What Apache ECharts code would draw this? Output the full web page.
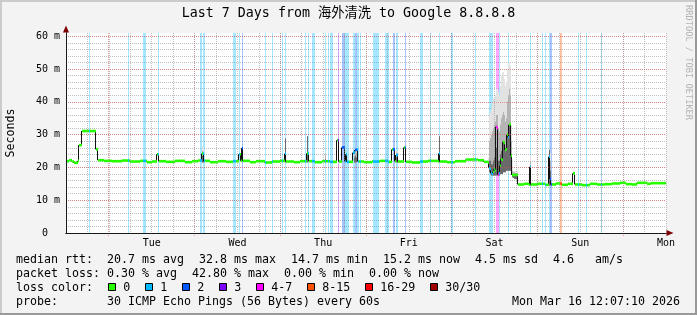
<!DOCTYPE html>
<html><head><meta charset="utf-8">
<script src="https://cdn.jsdelivr.net/npm/echarts@6/dist/echarts.min.js"></script>
<style>html,body{margin:0;padding:0;background:#f3f3f3}#c{width:697px;height:315px}</style>
</head><body><div id="c"></div>
<script>
// ---- data (time in hours since window start, Mon 12:07) ----
const STEP = 0.28; // one rrd row (1008 s)
const dayNames = ['Mon','Tue','Wed','Thu','Fri','Sat','Sun','Mon'];
const midnights = [12,36,60,84,108,132,156];
const medTime = [0,0.84,1.68,2.24,3.36,3.64,4.48,8.4,8.96,10.64,12.88,15.68,17.92,20.72,22.68,24.08,25.48,26.04,28.0,30.52,33.32,35.28,36.96,38.08,38.64,40.32,42.56,44.8,46.76,48.44,49.0,49.28,49.56,51.52,53.2,55.72,57.68,59.92,61.32,61.6,63.84,65.52,67.48,68.04,69.72,71.68,73.92,75.88,76.44,77.28,78.12,78.4,78.68,80.36,80.92,81.48,81.76,83.44,85.68,87.92,90.16,91.28,92.12,92.4,92.96,94.64,95.2,96.88,99.12,101.36,104.16,104.44,104.72,106.68,108.92,112.0,115.36,117.04,118.16,118.44,118.72,119.0,119.28,119.56,119.84,120.12,120.4,120.68,120.96,121.24,121.52,121.8,122.08,122.36,122.64,122.92,123.2,123.48,123.76,124.04,124.32,124.6,124.88,126.56,128.24,129.64,129.92,130.2,131.88,134.12,135.24,135.52,135.8,137.2,138.88,140.56,141.96,142.52,144.48,146.72,148.68,150.92,152.88,155.12,156.8,158.48,159.88,162.68,163.76,166.32];
const medValue = [21.9,22.2,21.8,21.4,22.0,26.8,31.1,25.5,22.2,22.0,21.9,22.1,21.8,22.0,21.6,21.8,24.0,21.9,21.7,22.0,21.6,21.9,22.1,24.2,22.0,21.6,21.9,21.7,21.9,24.0,22.0,25.9,22.0,21.6,21.9,21.5,21.8,22.0,24.2,21.8,21.6,21.9,24.3,21.9,21.6,21.9,21.7,28.3,21.8,26.1,21.8,24.0,21.7,24.5,25.3,25.5,21.8,21.6,21.8,22.0,21.7,25.5,21.9,23.8,21.8,26.1,21.7,21.5,21.8,22.0,21.8,24.3,21.8,21.6,21.9,22.4,22.2,21.7,21.5,19.8,19.5,18.3,18.0,18.7,19.5,19.0,32.4,32.0,17.8,18.2,20.5,22.5,22.3,27.8,27.5,25.3,25.5,30.0,29.2,33.0,33.2,23.6,17.7,14.8,15.0,14.7,20.2,14.8,15.0,14.7,23.3,16.5,14.8,15.1,14.7,15.0,18.2,14.8,14.6,15.0,14.8,14.9,15.1,15.3,14.9,14.8,15.3,15.0,15.2,15.2];
const lossStart = [6.44,17.36,21.56,25.76,37.52,38.36,46.76,48.44,49.28,55.72,57.68,60.48,61.32,66.92,67.76,68.88,72.52,73.36,73.92,76.16,77.28,78.12,80.36,80.92,81.48,82.32,85.96,89.32,91.56,92.4,94.92,99.12,101.92,104.44,107.8,114.52,118.44,120.4,121.24,123.76,129.92,133.28,134.12,135.24,135.52,138.32,143.36,145.6,149.8];
const lossEnd   = [6.72,17.64,22.4,26.04,38.08,38.92,47.6,48.72,49.56,56.0,57.96,60.76,61.6,67.2,68.04,69.72,72.8,73.64,74.76,76.44,78.12,79.24,80.92,81.48,82.04,82.6,87.64,90.44,92.12,92.96,95.2,99.96,102.2,104.72,108.36,114.8,119.56,121.24,121.52,124.04,130.2,133.56,134.4,135.52,136.08,138.88,143.64,145.88,150.08];
const lossCode  = [1,1,1,1,1,1,1,1,2,1,1,1,1,1,1,1,1,1,1,3,2,1,1,2,1,1,1,1,2,1,2,1,1,1,1,1,1,4,1,1,1,1,1,1,2,5,1,1,1];
const smokeTime = [38.08,38.36,61.32,67.48,72.52,80.64,80.92,81.2,92.4,92.68,104.44,118.16,118.44,118.72,119.0,119.28,119.56,119.84,120.12,120.4,120.68,120.96,121.24,121.52,121.8,122.08,122.36,122.64,122.92,123.2,123.48,123.76,124.04,124.32,124.6,124.88,125.16,125.44,125.72,126.0,126.28,129.92,135.24,135.52];
const smokeLo   = [21.5,21.5,21.5,21.5,21.5,21.5,21.5,21.5,21.5,21.5,21.5,20,18.5,18,17.5,17.5,17.5,17.5,17.5,17.5,17.5,17.5,17.5,18,18,18,18.5,18.5,18.5,19,19,19,19,19,18,17,16.8,16.5,16.5,16.5,16,14.5,14.5,14.5];
const smokeCore = [23.5,23,28.8,29.5,22.5,23,23.5,23,23,23,29.5,21.5,22,22,21,21,22,23,24,26,26,22,22,24,25,26,28,28,26,27,30,30,33,32,24,18,18,18,17.8,17.8,17.8,20.5,25.3,19];
const smokeMid  = [25,24.5,28.8,29.5,24,24.5,25,24.5,24.5,24.5,29.5,22,28,29,30,31,32,33,34,36,36,32,31,33,35,36,37,36,34,35,40,42,44,42,28,19,18.5,18.5,18.3,18.3,18.3,22,25.3,22];
const smokeHi   = [26.5,26,28.8,29.5,24,25,25.5,25,25,25,29.5,23,36,37,38,40,41,41,42,44,44,43,42,45,48,49,49,47,45,46,50,52,52,51,33,22.5,19,19,18.8,18.8,18.8,23.8,25.3,24.5];
const lossLabels = ['0','1','2','3','4-7','8-15','16-29','30/30'];
const lossColors = ['#26ff00','#00b8ff','#0059ff','#7e00ff','#ff00ff','#ff5500','#ff0000','#a10000'];
const rttStats = ['20.7 ms avg','32.8 ms max','14.7 ms min','15.2 ms now','4.5 ms sd','4.6   am/s'];
const lossStats = ['0.30 % avg','42.80 % max','0.00 % min','0.00 % now'];
const probeText = '30 ICMP Echo Pings (56 Bytes) every 60s';
const stampText = 'Mon Mar 16 12:07:10 2026';
const titleText = 'Last 7 Days from 海外清洗 to Google 8.8.8.8';

// ---- derived structures ----
const END = 168;
function rgba(hex, a){const n=parseInt(hex.slice(1),16);return `rgba(${n>>16},${(n>>8)&255},${n&255},${a})`;}
const bandData = lossStart.map((s,i)=>[s, lossEnd[i], lossCode[i]]);
const medPieces = [];
medTime.forEach((t,i)=>{
  const a=t, b=(i+1<medTime.length)?medTime[i+1]:END, v=medValue[i];
  const cuts=[a,b];
  lossStart.forEach((s,j)=>{const e=lossEnd[j]; if(s>a&&s<b)cuts.push(s); if(e>a&&e<b)cuts.push(e);});
  cuts.sort((x,y)=>x-y);
  for(let k=0;k<cuts.length-1;k++){
    const c0=cuts[k],c1=cuts[k+1]; if(c1-c0<1e-6)continue;
    const m=(c0+c1)/2; let code=0;
    lossStart.forEach((s,j)=>{if(m>s&&m<lossEnd[j])code=lossCode[j];});
    medPieces.push([c0,c1,v,code]);
  }
});
const connData = medTime.slice(1).map((t,i)=>[t, medValue[i], medValue[i+1]]);
const smokeData = smokeTime.map((t,i)=>[t, t+STEP, smokeLo[i], smokeCore[i], smokeMid[i], smokeHi[i]]);

const MONO = "'DejaVu Sans Mono', 'Noto Sans CJK SC', monospace";
const chart = echarts.init(document.getElementById('c'), null, {renderer:'canvas'});

// ---- legend / texts ----
const LF = 11.63, CW = 7;
const g = [];
function txt(x,y,s,size,align,fill){
  return {type:'text', x:x, y:y, silent:true, style:{text:s, font:`${size}px ${MONO}`, fill:fill||'#000', align:align||'left', verticalAlign:'middle', textAlign:align||'left', textVerticalAlign:'middle'}};
}
g.push({type:'rect', silent:true, shape:{x:0,y:0,width:697,height:2}, style:{fill:'#cbcbcb'}});
g.push({type:'rect', silent:true, shape:{x:0,y:0,width:2,height:315}, style:{fill:'#cbcbcb'}});
g.push({type:'rect', silent:true, shape:{x:0,y:313,width:697,height:2}, style:{fill:'#999'}});
g.push({type:'rect', silent:true, shape:{x:695,y:0,width:2,height:315}, style:{fill:'#999'}});
g.push(txt(348.5,14,titleText,13.3,'center'));
g.push({type:'text', x:688.5, y:5, rotation:-Math.PI/2, silent:true, style:{text:'RRDTOOL / TOBI OETIKER', font:`8.7px ${MONO}`, fill:'#b4b4b4', align:'left', verticalAlign:'middle', textAlign:'left', textVerticalAlign:'middle'}});
const L1=259.5, L2=273.5, L3=287.5, L4=301.5, TAB=107, GAP=15;
g.push(txt(16,L1,'median rtt:',LF));
let x=TAB; rttStats.forEach(s=>{g.push(txt(x,L1,s,LF)); x+=s.length*CW+GAP;});
g.push(txt(16,L2,'packet loss:',LF));
x=TAB; lossStats.forEach(s=>{g.push(txt(x,L2,s,LF)); x+=s.length*CW+GAP;});
g.push(txt(16,L3,'loss color:',LF));
let bx=108;
lossLabels.forEach((s,i)=>{
  g.push({type:'rect', silent:true, shape:{x:bx+0.5,y:L3-4,width:7,height:7}, style:{fill:lossColors[i], stroke:'#000', lineWidth:1}});
  const lx=bx+15.3; g.push(txt(lx,L3,s,LF));
  bx=lx+s.length*CW+14.7;
});
g.push(txt(16,L4,'probe:',LF));
g.push(txt(TAB,L4,probeText,LF));
g.push(txt(680,L4,stampText,LF,'right'));

const gridGray = 'rgba(143,143,143,0.56)';
const gridRed = 'rgba(224,80,80,0.56)';
const ARROW = '#7f0000';
const hidden = {axisLabel:{show:false}, axisTick:{show:false}, splitLine:{show:false}};

chart.setOption({
  animation:false,
  backgroundColor:'#f3f3f3',
  textStyle:{fontFamily:MONO},
  grid:{left:66, right:31, top:33, bottom:82, show:true, backgroundColor:'#fff', borderWidth:0, containLabel:false, outerBoundsMode:'none'},
  xAxis:[
    {type:'value', min:0, max:END, interval:6, z:8,
      axisLine:{show:true, onZero:false, lineStyle:{color:'#1a1a1a', width:1}},
      axisTick:{show:false},
      axisLabel:{show:true, fontSize:10, fontFamily:MONO, color:'#000', margin:5, showMaxLabel:true, showMinLabel:true, hideOverlap:false,
        formatter:v=>{const r=Math.round(v); return (r>0 && r%24===0)? dayNames[r/24] : '';}},
      splitLine:{show:true, lineStyle:{color:gridGray, width:1, type:[1,1]}}},
    Object.assign({type:'value', min:0, max:END, position:'bottom', z:7,
      axisLine:{show:true, onZero:false, symbol:['none','triangle'], symbolSize:[6,7], symbolOffset:[0,4], lineStyle:{color:ARROW, width:1}}}, hidden)
  ],
  yAxis:[
    {type:'value', min:0, max:61, interval:2, position:'left', axisLine:{show:false}, axisTick:{show:false}, axisLabel:{show:false},
      splitLine:{show:true, showMaxLine:false, showMinLine:false, lineStyle:{color:gridGray, width:1, type:[1,1]}}},
    {type:'value', min:0, max:61, interval:10, position:'left', z:8,
      name:'Seconds', nameLocation:'middle', nameRotate:90, nameGap:49, nameTextStyle:{fontSize:11.6, fontFamily:MONO, color:'#000'},
      axisLine:{show:true, onZero:false, lineStyle:{color:'#1a1a1a', width:1}},
      axisTick:{show:false},
      axisLabel:{fontSize:10, fontFamily:MONO, color:'#000', margin:6,
        formatter:v=>{const r=Math.round(v); if(Math.abs(v-r)>1e-6 || r%10) return ''; return r===0 ? '0\u00a0\u00a0' : r+' m';}},
      splitLine:{show:true, showMaxLine:false, showMinLine:false, lineStyle:{color:gridRed, width:1, type:[1,1]}}},
    Object.assign({type:'value', min:0, max:61, position:'left', z:7,
      axisLine:{show:true, onZero:false, symbol:['none','triangle'], symbolSize:[6,7], symbolOffset:[0,4], lineStyle:{color:ARROW, width:1}}}, hidden)
  ],
  graphic:g,
  series:[
    {type:'custom', name:'midnight', z:1, yAxisIndex:1, silent:true, data:midnights.map(t=>[t]),
      renderItem:(p,api)=>{const b=api.coord([api.value(0),0]); const t=api.coord([api.value(0),61]); const xx=Math.floor(b[0])+0.5;
        return {type:'line', shape:{x1:xx,y1:t[1],x2:xx,y2:b[1]+3}, style:{stroke:gridRed, lineWidth:1, lineDash:[1,1]}};}},
    {type:'custom', name:'loss', z:2, yAxisIndex:1, silent:true, data:bandData,
      renderItem:(p,api)=>{const a=api.coord([api.value(0),61]); const b=api.coord([api.value(1),0]);
        return {type:'rect', shape:{x:a[0],y:a[1],width:b[0]-a[0],height:b[1]-a[1]}, style:{fill:rgba(lossColors[api.value(2)],0.35)}};}},
    {type:'custom', name:'smoke', z:3, yAxisIndex:1, silent:true, data:smokeData,
      renderItem:(p,api)=>{
        const t0=api.value(0), t1=api.value(1), lo=api.value(2);
        const shades=['#6a6a6a','#b4b4b4','#e2e2e2'];
        const children=[];
        [5,4,3].forEach((d,k)=>{const a=api.coord([t0,api.value(d)]); const b=api.coord([t1,lo]);
          children.push({type:'rect', shape:{x:a[0],y:a[1],width:b[0]-a[0],height:b[1]-a[1]}, style:{fill:shades[2-k]}});});
        return {type:'group', children};
      }},
    {type:'custom', name:'connectors', z:4, yAxisIndex:1, silent:true, data:connData,
      renderItem:(p,api)=>{const a=api.coord([api.value(0),api.value(1)]); const b=api.coord([api.value(0),api.value(2)]); const xx=Math.round(a[0])-0.5;
        return {type:'line', shape:{x1:xx,y1:a[1],x2:xx,y2:b[1]}, style:{stroke:'#111', lineWidth:1}};}},
    {type:'custom', name:'median', z:5, yAxisIndex:1, silent:true, data:medPieces,
      renderItem:(p,api)=>{const a=api.coord([api.value(0),api.value(2)]); const b=api.coord([api.value(1),api.value(2)]);
        return {type:'rect', shape:{x:a[0],y:a[1]-1.3,width:b[0]-a[0],height:2.6}, style:{fill:lossColors[api.value(3)]}};}}
  ]
});
</script></body></html>
